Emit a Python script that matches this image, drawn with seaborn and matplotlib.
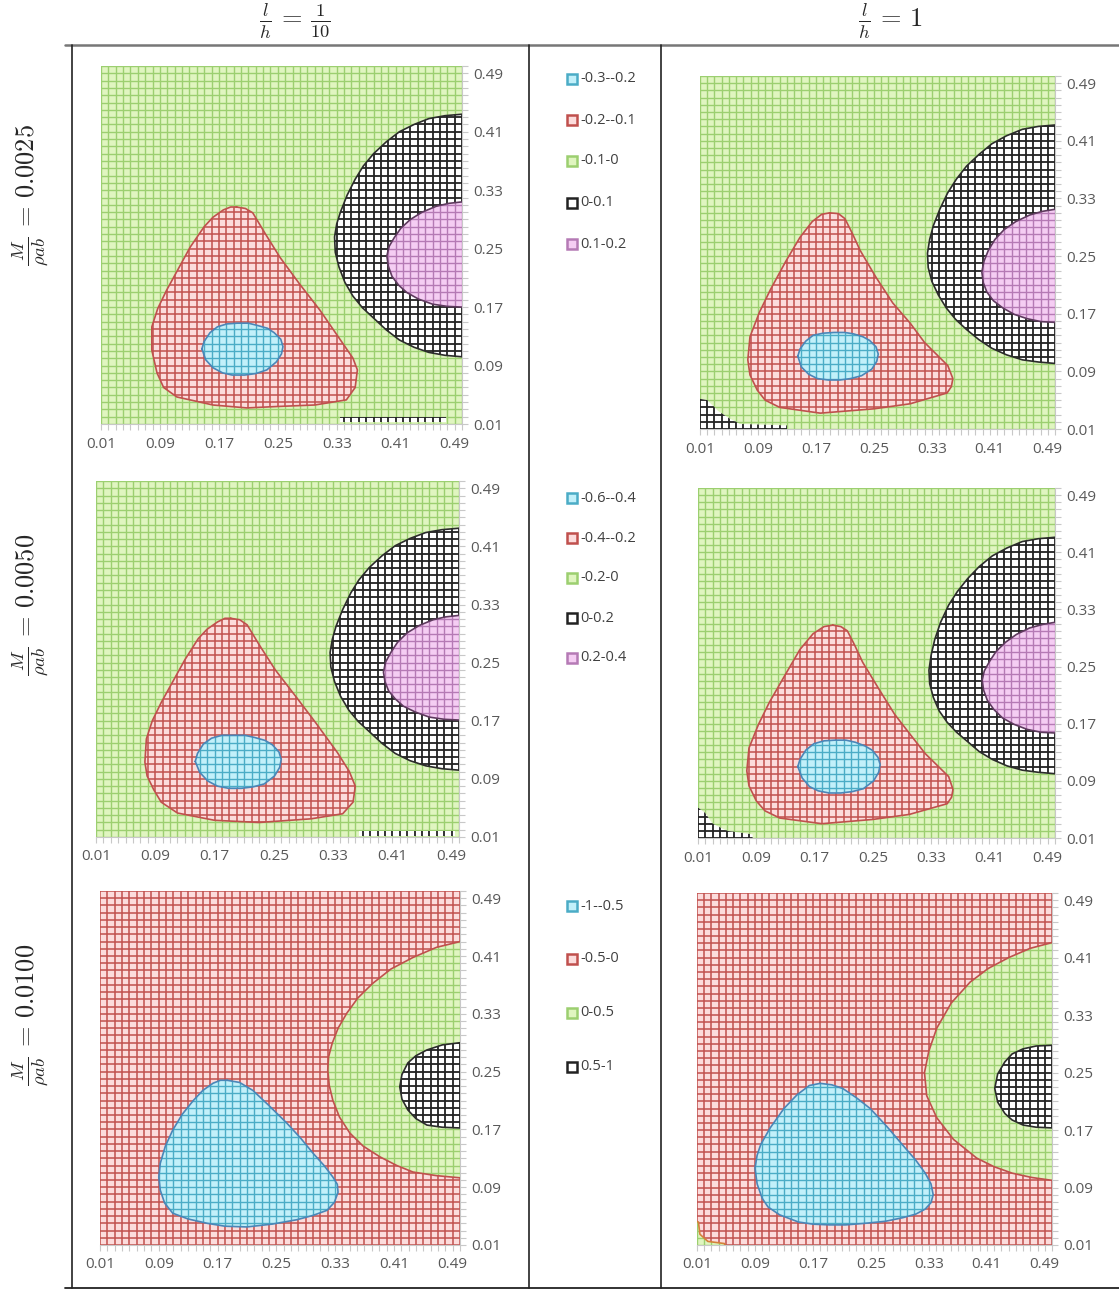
import numpy as np
import matplotlib
matplotlib.use('Agg')
import matplotlib.pyplot as plt
from matplotlib.patches import Polygon, Rectangle
from matplotlib.collections import LineCollection
from matplotlib.lines import Line2D
import seaborn as sns

sns.set_style('white')
plt.rcParams['font.family'] = ['Open Sans', 'DejaVu Sans']
plt.rcParams['mathtext.fontset'] = 'cm'

W, H = 1119, 1290

# ---- axis ticks ----
tick_vals = [0.01, 0.09, 0.17, 0.25, 0.33, 0.41, 0.49]
tick_labels = ['0.01', '0.09', '0.17', '0.25', '0.33', '0.41', '0.49']

# ---- headers / legends ----
col_titles = [r'$\frac{l}{h}\, =\, \frac{1}{10}$', r'$\frac{l}{h}\, =\, 1$']
row_titles = [r'$\frac{M}{\rho a b}\, =\, 0.0025$', r'$\frac{M}{\rho a b}\, =\, 0.0050$',
              r'$\frac{M}{\rho a b}\, =\, 0.0100$']
leg1_labels = ['-0.3--0.2', '-0.2--0.1', '-0.1-0', '0-0.1', '0.1-0.2']
leg2_labels = ['-0.6--0.4', '-0.4--0.2', '-0.2-0', '0-0.2', '0.2-0.4']
leg3_labels = ['-1--0.5', '-0.5-0', '0-0.5', '0.5-1']
leg12_kinds = ['blue', 'red', 'green', 'black', 'pink']
leg3_kinds = ['blue', 'red', 'green', 'black']

# ---- region outlines (x, y in map units) ----
# row 1, l/h = 1/10
r1c1_red_x = [0.194, 0.206, 0.216, 0.232, 0.253, 0.280, 0.307, 0.335, 0.352, 0.358, 0.355, 0.343, 0.300, 0.250, 0.208, 0.162, 0.113, 0.095, 0.086, 0.079, 0.079, 0.087, 0.099, 0.131, 0.150, 0.162, 0.176, 0.186]
r1c1_red_y = [0.307, 0.305, 0.299, 0.272, 0.238, 0.201, 0.166, 0.125, 0.100, 0.084, 0.060, 0.043, 0.036, 0.034, 0.032, 0.036, 0.047, 0.060, 0.080, 0.111, 0.143, 0.168, 0.193, 0.252, 0.280, 0.293, 0.303, 0.307]
r1c1_blue_x = [0.147, 0.150, 0.158, 0.168, 0.181, 0.195, 0.210, 0.222, 0.236, 0.245, 0.254, 0.257, 0.255, 0.248, 0.235, 0.220, 0.205, 0.188, 0.175, 0.162, 0.152]
r1c1_blue_y = [0.113, 0.123, 0.135, 0.143, 0.147, 0.148, 0.148, 0.145, 0.141, 0.135, 0.126, 0.116, 0.106, 0.095, 0.084, 0.079, 0.077, 0.077, 0.080, 0.087, 0.098]
r1c1_black_x = [0.52, 0.50, 0.477, 0.455, 0.435, 0.415, 0.397, 0.380, 0.366, 0.355, 0.344, 0.335, 0.330, 0.327, 0.328, 0.333, 0.341, 0.352, 0.365, 0.380, 0.397, 0.415, 0.435, 0.455, 0.477, 0.50, 0.52]
r1c1_black_y = [0.434, 0.434, 0.432, 0.428, 0.420, 0.410, 0.396, 0.380, 0.363, 0.345, 0.323, 0.300, 0.284, 0.266, 0.245, 0.225, 0.204, 0.185, 0.169, 0.155, 0.139, 0.125, 0.115, 0.108, 0.104, 0.102, 0.102]
r1c1_pink_x = [0.52, 0.50, 0.482, 0.465, 0.446, 0.430, 0.417, 0.408, 0.401, 0.398, 0.400, 0.405, 0.414, 0.425, 0.441, 0.460, 0.480, 0.50, 0.52]
r1c1_pink_y = [0.314, 0.314, 0.312, 0.308, 0.300, 0.290, 0.278, 0.265, 0.253, 0.240, 0.226, 0.212, 0.200, 0.190, 0.181, 0.174, 0.171, 0.170, 0.170]
r1c1_speck_x = [0.335, 0.478, 0.478, 0.335]
r1c1_speck_y = [0.013, 0.013, 0.019, 0.019]

# row 1, l/h = 1
r1c2_red_x = [0.189, 0.201, 0.210, 0.220, 0.231, 0.252, 0.276, 0.300, 0.320, 0.340, 0.352, 0.359, 0.357, 0.351, 0.300, 0.250, 0.176, 0.120, 0.100, 0.089, 0.079, 0.076, 0.079, 0.092, 0.107, 0.128, 0.148, 0.165, 0.178]
r1c2_red_y = [0.310, 0.309, 0.302, 0.282, 0.258, 0.222, 0.185, 0.157, 0.130, 0.110, 0.098, 0.080, 0.069, 0.060, 0.045, 0.038, 0.032, 0.040, 0.050, 0.064, 0.085, 0.106, 0.138, 0.172, 0.203, 0.242, 0.276, 0.298, 0.308]
r1c2_blue_x = [0.145, 0.148, 0.156, 0.166, 0.180, 0.195, 0.210, 0.222, 0.235, 0.244, 0.253, 0.256, 0.254, 0.247, 0.233, 0.218, 0.203, 0.187, 0.172, 0.160, 0.150]
r1c2_blue_y = [0.111, 0.121, 0.132, 0.140, 0.143, 0.144, 0.144, 0.142, 0.138, 0.133, 0.124, 0.114, 0.104, 0.093, 0.084, 0.080, 0.078, 0.078, 0.080, 0.086, 0.096]
r1c2_black_x = [0.52, 0.50, 0.477, 0.455, 0.433, 0.413, 0.395, 0.378, 0.364, 0.352, 0.341, 0.332, 0.327, 0.324, 0.325, 0.330, 0.339, 0.350, 0.363, 0.378, 0.395, 0.413, 0.433, 0.455, 0.477, 0.50, 0.52]
r1c2_black_y = [0.432, 0.432, 0.430, 0.426, 0.417, 0.406, 0.391, 0.375, 0.357, 0.338, 0.315, 0.292, 0.273, 0.254, 0.234, 0.215, 0.196, 0.178, 0.162, 0.148, 0.134, 0.122, 0.113, 0.106, 0.103, 0.101, 0.101]
r1c2_pink_x = [0.52, 0.50, 0.482, 0.465, 0.446, 0.430, 0.417, 0.408, 0.402, 0.399, 0.401, 0.406, 0.415, 0.428, 0.444, 0.462, 0.481, 0.50, 0.52]
r1c2_pink_y = [0.315, 0.315, 0.312, 0.307, 0.298, 0.287, 0.273, 0.258, 0.243, 0.228, 0.213, 0.200, 0.188, 0.178, 0.169, 0.163, 0.159, 0.158, 0.158]
r1c2_speck_x = [0.0, 0.0, 0.020, 0.035, 0.050, 0.065, 0.130, 0.130]
r1c2_speck_y = [0.0, 0.054, 0.050, 0.035, 0.025, 0.017, 0.015, 0.0]

# row 2, l/h = 1/10
r2c1_red_x = [0.192, 0.204, 0.214, 0.230, 0.252, 0.280, 0.306, 0.336, 0.352, 0.360, 0.357, 0.343, 0.300, 0.230, 0.170, 0.120, 0.098, 0.088, 0.079, 0.076, 0.078, 0.086, 0.098, 0.130, 0.148, 0.160, 0.174, 0.184]
r2c1_red_y = [0.311, 0.309, 0.302, 0.275, 0.240, 0.203, 0.168, 0.126, 0.100, 0.080, 0.058, 0.042, 0.035, 0.030, 0.033, 0.043, 0.058, 0.075, 0.094, 0.113, 0.145, 0.170, 0.195, 0.254, 0.283, 0.296, 0.306, 0.311]
r2c1_blue_x = [0.144, 0.147, 0.155, 0.166, 0.180, 0.195, 0.211, 0.224, 0.238, 0.248, 0.257, 0.260, 0.258, 0.251, 0.237, 0.222, 0.206, 0.189, 0.174, 0.161, 0.150]
r2c1_blue_y = [0.114, 0.125, 0.138, 0.146, 0.150, 0.150, 0.150, 0.147, 0.143, 0.137, 0.127, 0.117, 0.106, 0.094, 0.083, 0.079, 0.077, 0.077, 0.080, 0.087, 0.099]
r2c1_black_x = [0.52, 0.50, 0.477, 0.455, 0.434, 0.414, 0.396, 0.379, 0.365, 0.354, 0.343, 0.334, 0.329, 0.326, 0.327, 0.332, 0.340, 0.351, 0.364, 0.379, 0.396, 0.414, 0.434, 0.455, 0.477, 0.50, 0.52]
r2c1_black_y = [0.435, 0.435, 0.433, 0.429, 0.421, 0.411, 0.397, 0.381, 0.364, 0.346, 0.323, 0.300, 0.282, 0.264, 0.244, 0.224, 0.204, 0.185, 0.169, 0.155, 0.139, 0.125, 0.115, 0.108, 0.104, 0.102, 0.102]
r2c1_pink_x = [0.52, 0.50, 0.482, 0.465, 0.446, 0.430, 0.417, 0.408, 0.401, 0.398, 0.400, 0.405, 0.414, 0.425, 0.441, 0.460, 0.480, 0.50, 0.52]
r2c1_pink_y = [0.315, 0.315, 0.313, 0.309, 0.301, 0.291, 0.278, 0.264, 0.251, 0.237, 0.224, 0.211, 0.200, 0.190, 0.182, 0.175, 0.172, 0.171, 0.171]
r2c1_speck_x = [0.365, 0.495, 0.495, 0.365]
r2c1_speck_y = [0.012, 0.012, 0.018, 0.018]

# row 2, l/h = 1
r2c2_red_x = [0.195, 0.206, 0.215, 0.225, 0.236, 0.258, 0.280, 0.302, 0.322, 0.342, 0.354, 0.360, 0.358, 0.352, 0.300, 0.250, 0.180, 0.122, 0.102, 0.090, 0.080, 0.077, 0.080, 0.093, 0.108, 0.130, 0.150, 0.168, 0.183]
r2c2_red_y = [0.308, 0.306, 0.300, 0.280, 0.256, 0.219, 0.183, 0.154, 0.128, 0.108, 0.096, 0.078, 0.067, 0.058, 0.043, 0.036, 0.030, 0.038, 0.048, 0.062, 0.083, 0.104, 0.136, 0.169, 0.200, 0.239, 0.274, 0.296, 0.306]
r2c2_blue_x = [0.147, 0.150, 0.158, 0.169, 0.183, 0.198, 0.213, 0.226, 0.239, 0.249, 0.257, 0.260, 0.258, 0.251, 0.237, 0.222, 0.206, 0.190, 0.175, 0.163, 0.153]
r2c2_blue_y = [0.110, 0.120, 0.133, 0.142, 0.146, 0.147, 0.147, 0.144, 0.139, 0.133, 0.123, 0.113, 0.102, 0.090, 0.079, 0.075, 0.073, 0.073, 0.076, 0.082, 0.094]
r2c2_black_x = [0.52, 0.50, 0.477, 0.455, 0.434, 0.414, 0.396, 0.380, 0.366, 0.354, 0.343, 0.335, 0.330, 0.327, 0.328, 0.333, 0.341, 0.352, 0.365, 0.380, 0.396, 0.414, 0.434, 0.455, 0.477, 0.50, 0.52]
r2c2_black_y = [0.431, 0.431, 0.429, 0.425, 0.416, 0.405, 0.390, 0.373, 0.355, 0.336, 0.312, 0.288, 0.266, 0.245, 0.226, 0.207, 0.188, 0.172, 0.158, 0.145, 0.131, 0.120, 0.111, 0.105, 0.102, 0.100, 0.100]
r2c2_pink_x = [0.52, 0.50, 0.483, 0.465, 0.447, 0.432, 0.419, 0.410, 0.403, 0.400, 0.402, 0.407, 0.416, 0.428, 0.444, 0.462, 0.481, 0.50, 0.52]
r2c2_pink_y = [0.312, 0.312, 0.309, 0.304, 0.295, 0.284, 0.271, 0.257, 0.244, 0.231, 0.217, 0.203, 0.190, 0.178, 0.169, 0.162, 0.158, 0.157, 0.157]
r2c2_speck_x = [0.0, 0.0, 0.020, 0.030, 0.050, 0.085, 0.085]
r2c2_speck_y = [0.0, 0.060, 0.045, 0.030, 0.020, 0.015, 0.0]

# row 3, l/h = 1/10
r3c1_blue_x = [0.183, 0.200, 0.218, 0.240, 0.264, 0.283, 0.300, 0.315, 0.327, 0.333, 0.334, 0.329, 0.319, 0.300, 0.278, 0.245, 0.210, 0.180, 0.156, 0.130, 0.109, 0.098, 0.092, 0.090, 0.092, 0.099, 0.109, 0.122, 0.137, 0.150, 0.164, 0.174]
r3c1_blue_y = [0.238, 0.235, 0.224, 0.203, 0.179, 0.158, 0.137, 0.120, 0.104, 0.094, 0.083, 0.069, 0.058, 0.051, 0.045, 0.039, 0.035, 0.036, 0.040, 0.046, 0.054, 0.068, 0.086, 0.104, 0.123, 0.147, 0.169, 0.191, 0.210, 0.224, 0.234, 0.238]
r3c1_green_x = [0.52, 0.50, 0.468, 0.436, 0.406, 0.381, 0.361, 0.346, 0.334, 0.326, 0.321, 0.320, 0.322, 0.327, 0.336, 0.350, 0.368, 0.391, 0.414, 0.436, 0.468, 0.50, 0.52]
r3c1_green_y = [0.430, 0.430, 0.422, 0.408, 0.392, 0.372, 0.352, 0.331, 0.310, 0.289, 0.270, 0.252, 0.231, 0.210, 0.187, 0.165, 0.147, 0.132, 0.120, 0.111, 0.106, 0.103, 0.103]
r3c1_black_x = [0.52, 0.50, 0.476, 0.455, 0.440, 0.429, 0.421, 0.418, 0.421, 0.429, 0.440, 0.455, 0.476, 0.50, 0.52]
r3c1_black_y = [0.290, 0.290, 0.287, 0.280, 0.272, 0.262, 0.246, 0.229, 0.212, 0.197, 0.185, 0.176, 0.173, 0.172, 0.172]

# row 3, l/h = 1
r3c2_blue_x = [0.180, 0.196, 0.211, 0.230, 0.249, 0.272, 0.294, 0.312, 0.325, 0.333, 0.336, 0.333, 0.325, 0.312, 0.294, 0.270, 0.240, 0.215, 0.193, 0.170, 0.150, 0.124, 0.108, 0.100, 0.093, 0.090, 0.093, 0.098, 0.111, 0.130, 0.148, 0.165]
r3c2_blue_y = [0.235, 0.233, 0.228, 0.215, 0.200, 0.175, 0.149, 0.128, 0.110, 0.095, 0.080, 0.069, 0.060, 0.053, 0.048, 0.043, 0.040, 0.038, 0.038, 0.039, 0.042, 0.052, 0.063, 0.075, 0.095, 0.117, 0.135, 0.150, 0.173, 0.200, 0.219, 0.232]
r3c2_green_x = [0.52, 0.50, 0.470, 0.440, 0.412, 0.387, 0.361, 0.341, 0.330, 0.324, 0.327, 0.341, 0.364, 0.396, 0.420, 0.445, 0.472, 0.50, 0.52]
r3c2_green_y = [0.431, 0.431, 0.423, 0.410, 0.395, 0.376, 0.347, 0.312, 0.280, 0.250, 0.218, 0.187, 0.157, 0.131, 0.119, 0.110, 0.104, 0.100, 0.100]
r3c2_black_x = [0.52, 0.50, 0.478, 0.460, 0.445, 0.435, 0.425, 0.421, 0.425, 0.435, 0.445, 0.460, 0.478, 0.50, 0.52]
r3c2_black_y = [0.288, 0.288, 0.287, 0.283, 0.276, 0.265, 0.248, 0.228, 0.209, 0.193, 0.184, 0.177, 0.174, 0.173, 0.173]
r3c2_corner_x = [0.0, 0.0, 0.012, 0.014, 0.025, 0.048, 0.050]
r3c2_corner_y = [0.0, 0.045, 0.042, 0.025, 0.015, 0.012, 0.0]

# fill, grid line, outline
STYLE = {
    'green': ('#e0f5c0', '#9ccf70', '#8cc063'),
    'red': ('#fcdcdc', '#c0504d', '#c0504d'),
    'blue': ('#c2f0fa', '#4bacc6', '#4a86b8'),
    'black': ('#ffffff', '#222222', '#2b2b2b'),
    'pink': ('#f5cdf3', '#b57ab5', '#5e3a5e'),
}
GRID_LW = {'green': 1.0, 'red': 1.1, 'blue': 1.0, 'black': 1.3, 'pink': 1.0}

# panel boxes in pixels: left, right, top, bottom (map 0.01..0.50)
BOXES = [[(101, 462, 66, 424), (700, 1055, 76, 429)],
         [(96, 459, 481, 837), (698, 1055, 488, 838)],
         [(100, 460, 891, 1245), (697, 1052, 893, 1245)]]

PANELS = [
    [('green', [
        (r1c1_red_x, r1c1_red_y, 'red', None),
        (r1c1_blue_x, r1c1_blue_y, 'blue', None),
        (r1c1_black_x, r1c1_black_y, 'black', None),
        (r1c1_pink_x, r1c1_pink_y, 'pink', None),
        (r1c1_speck_x, r1c1_speck_y, 'black', 'none')]),
     ('green', [
        (r1c2_red_x, r1c2_red_y, 'red', None),
        (r1c2_blue_x, r1c2_blue_y, 'blue', None),
        (r1c2_black_x, r1c2_black_y, 'black', None),
        (r1c2_pink_x, r1c2_pink_y, 'pink', None),
        (r1c2_speck_x, r1c2_speck_y, 'black', 'none')])],
    [('green', [
        (r2c1_red_x, r2c1_red_y, 'red', None),
        (r2c1_blue_x, r2c1_blue_y, 'blue', None),
        (r2c1_black_x, r2c1_black_y, 'black', None),
        (r2c1_pink_x, r2c1_pink_y, 'pink', None),
        (r2c1_speck_x, r2c1_speck_y, 'black', 'none')]),
     ('green', [
        (r2c2_red_x, r2c2_red_y, 'red', None),
        (r2c2_blue_x, r2c2_blue_y, 'blue', None),
        (r2c2_black_x, r2c2_black_y, 'black', None),
        (r2c2_pink_x, r2c2_pink_y, 'pink', None),
        (r2c2_speck_x, r2c2_speck_y, 'black', 'none')])],
    [('red', [
        (r3c1_blue_x, r3c1_blue_y, 'blue', None),
        (r3c1_green_x, r3c1_green_y, 'green', '#c0504d'),
        (r3c1_black_x, r3c1_black_y, 'black', None)]),
     ('red', [
        (r3c2_blue_x, r3c2_blue_y, 'blue', None),
        (r3c2_green_x, r3c2_green_y, 'green', '#c0504d'),
        (r3c2_black_x, r3c2_black_y, 'black', None),
        (r3c2_corner_x, r3c2_corner_y, 'green', '#d4813a')])],
]

LEGENDS = [(leg1_labels, leg12_kinds, [79, 120, 161, 203, 244]),
           (leg2_labels, leg12_kinds, [498, 538, 578, 618, 658]),
           (leg3_labels, leg3_kinds, [906, 959, 1013, 1067])]

grid = np.arange(1, 51) / 100.0
grid_segs = [[(g, 0.0), (g, 0.6)] for g in grid] + [[(0.0, g), (0.6, g)] for g in grid]


def draw_region(ax, xs, ys, kind, edge, z):
    fill, line, outline = STYLE[kind]
    poly = Polygon(np.column_stack([xs, ys]), closed=True, fc=fill, ec='none', zorder=z)
    ax.add_patch(poly)
    lc = LineCollection(grid_segs, colors=line, linewidths=GRID_LW[kind], zorder=z + 0.1)
    ax.add_collection(lc)
    lc.set_clip_path(poly)
    if edge == 'none':
        return
    col = edge if edge else outline
    sns.lineplot(x=list(xs) + [xs[0]], y=list(ys) + [ys[0]], sort=False, estimator=None,
                 color=col, linewidth=1.2, ax=ax, zorder=z + 0.2)


def fig_rect(l, r, t, b):
    return [l / W, 1 - b / H, (r - l) / W, (b - t) / H]


fig = plt.figure(figsize=(W / 100, H / 100), dpi=100)

for ri in range(3):
    for ci in range(2):
        ax = fig.add_axes(fig_rect(*BOXES[ri][ci]))
        bg, regions = PANELS[ri][ci]
        draw_region(ax, [-0.1, 0.7, 0.7, -0.1], [-0.1, -0.1, 0.7, 0.7], bg, 'none', 1)
        for k, (xs, ys, kind, edge) in enumerate(regions):
            draw_region(ax, xs, ys, kind, edge, 2 + k)
        ax.set_xlim(0.01, 0.50)
        ax.set_ylim(0.01, 0.50)
        ax.set_xticks(tick_vals)
        ax.set_xticklabels(tick_labels)
        ax.set_yticks(tick_vals)
        ax.set_yticklabels(tick_labels)
        ax.set_xticks(grid, minor=True)
        ax.set_yticks(grid, minor=True)
        ax.yaxis.tick_right()
        for s in ['top', 'left']:
            ax.spines[s].set_visible(False)
        for s in ['bottom', 'right']:
            ax.spines[s].set_color('#c8c8c8')
            ax.spines[s].set_linewidth(0.8)
        ax.tick_params(which='both', direction='out', length=4, width=0.8, color='#c8c8c8',
                       labelsize=11, labelcolor='#595959')
        ax.tick_params(axis='x', which='both', bottom=True, pad=5)
        ax.tick_params(axis='y', which='both', right=True, left=False, pad=4)
        ax.set_xlabel('')
        ax.set_ylabel('')

# legends in the middle column
for labels, kinds, ys in LEGENDS:
    for lab, kind, yy in zip(labels, kinds, ys):
        fill, line, outline = STYLE[kind]
        fig.add_artist(Rectangle((567 / W, 1 - (yy + 5) / H), 10 / W, 10 / H,
                                 transform=fig.transFigure, fc=fill, ec=line, lw=1.8))
        fig.text(580 / W, 1 - yy / H, lab, ha='left', va='center', fontsize=10.5, color='#404040')

# table rules
fig.add_artist(Line2D([65 / W, 1.0], [1 - 45 / H, 1 - 45 / H], transform=fig.transFigure,
                      color='#777777', lw=1.8))
fig.add_artist(Line2D([65 / W, 1.0], [1 - 1288 / H, 1 - 1288 / H], transform=fig.transFigure,
                      color='#222222', lw=1.3))
for xv in [72, 529, 661]:
    fig.add_artist(Line2D([xv / W, xv / W], [1 - 45 / H, 1 - 1288 / H], transform=fig.transFigure,
                          color='#222222', lw=1.2))

# headers
for txt, xc in zip(col_titles, [295, 890]):
    fig.text(xc / W, 1 - 21 / H, txt, ha='center', va='center', fontsize=19)
for txt, yc in zip(row_titles, [195, 605, 1015]):
    fig.text(30 / W, 1 - yc / H, txt, ha='center', va='center', fontsize=19, rotation=90)

fig.savefig('out.png', dpi=100)
